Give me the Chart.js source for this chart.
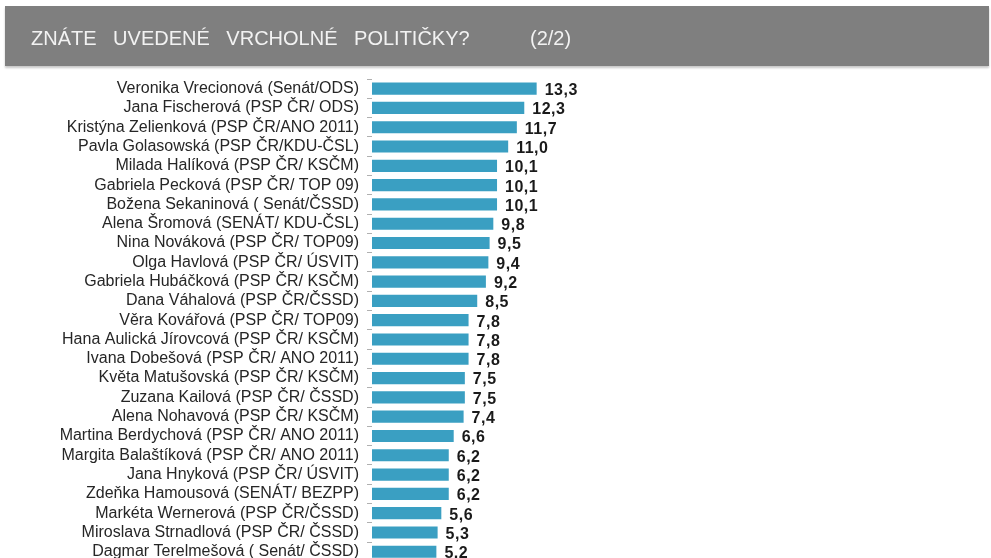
<!DOCTYPE html>
<html>
<head>
<meta charset="utf-8">
<script src="https://cdn.jsdelivr.net/npm/chart.js@4.4.1/dist/chart.umd.min.js"></script>
<style>
  html, body { margin: 0; padding: 0; background: #ffffff; }
  #clip { position: relative; width: 991px; height: 558px; overflow: hidden; }
  #band { position: absolute; left: 5px; top: 6px; width: 984px; height: 60px; background: #7f7f7f;
          box-shadow: 0 2px 2px rgba(0,0,0,0.22); }
  .ttl { position: absolute; top: 28px; color: #f2f2f2; font-family: "Liberation Sans", Arial, sans-serif;
         font-size: 20px; line-height: 20px; white-space: pre; }
  #t1 { left: 31px; word-spacing: 11px; }
  #t2 { left: 530px; }
  canvas { position: absolute; left: 0; top: 0; }
</style>
</head>
<body>
<div id="clip">
  <canvas id="c" width="991" height="579"></canvas>
  <div id="band"></div>
  <div class="ttl" id="t1">ZNÁTE UVEDENÉ VRCHOLNÉ POLITIČKY?</div>
  <div class="ttl" id="t2">(2/2)</div>
</div>
<script>
const categories = [
  "Veronika Vrecionová (Senát/ODS)",
  "Jana Fischerová (PSP ČR/ ODS)",
  "Kristýna Zelienková (PSP ČR/ANO 2011)",
  "Pavla Golasowská (PSP ČR/KDU-ČSL)",
  "Milada Halíková (PSP ČR/ KSČM)",
  "Gabriela Pecková (PSP ČR/ TOP 09)",
  "Božena Sekaninová ( Senát/ČSSD)",
  "Alena Šromová (SENÁT/ KDU-ČSL)",
  "Nina Nováková (PSP ČR/ TOP09)",
  "Olga Havlová (PSP ČR/ ÚSVIT)",
  "Gabriela Hubáčková (PSP ČR/ KSČM)",
  "Dana Váhalová (PSP ČR/ČSSD)",
  "Věra Kovářová (PSP ČR/ TOP09)",
  "Hana Aulická Jírovcová (PSP ČR/ KSČM)",
  "Ivana Dobešová (PSP ČR/ ANO 2011)",
  "Květa Matušovská (PSP ČR/ KSČM)",
  "Zuzana Kailová (PSP ČR/ ČSSD)",
  "Alena Nohavová (PSP ČR/ KSČM)",
  "Martina Berdychová (PSP ČR/ ANO 2011)",
  "Margita Balaštíková (PSP ČR/ ANO 2011)",
  "Jana Hnyková (PSP ČR/ ÚSVIT)",
  "Zdeňka Hamousová (SENÁT/ BEZPP)",
  "Markéta Wernerová (PSP ČR/ČSSD)",
  "Miroslava Strnadlová (PSP ČR/ ČSSD)",
  "Dagmar Terelmešová ( Senát/ ČSSD)"
];
const values = [13.3, 12.3, 11.7, 11.0, 10.1, 10.1, 10.1, 9.8, 9.5, 9.4, 9.2, 8.5, 7.8, 7.8, 7.8, 7.5, 7.5, 7.4, 6.6, 6.2, 6.2, 6.2, 5.6, 5.3, 5.2];

const valueLabels = {
  id: 'valueLabels',
  afterDatasetsDraw(chart) {
    const ctx = chart.ctx;
    const meta = chart.getDatasetMeta(0);
    ctx.save();
    ctx.font = 'bold 16px "Liberation Sans", Arial, sans-serif';
    ctx.fillStyle = '#1a1a1a';
    ctx.textAlign = 'left';
    ctx.textBaseline = 'middle';
    try { ctx.letterSpacing = '0.5px'; } catch (e) {}
    meta.data.forEach((bar, i) => {
      const txt = values[i].toFixed(1).replace('.', ',');
      ctx.fillText(txt, bar.x + 8, bar.y + 2);
    });
    ctx.restore();
  }
};

new Chart(document.getElementById('c'), {
  type: 'bar',
  data: {
    labels: categories,
    datasets: [{
      data: values,
      backgroundColor: '#3a9fc2',
      borderWidth: 0,
      categoryPercentage: 1.0,
      barPercentage: 0.63
    }]
  },
  options: {
    indexAxis: 'y',
    responsive: false,
    animation: false,
    layout: { padding: { top: 79, bottom: 10, left: 0, right: 0 } },
    plugins: { legend: { display: false }, tooltip: { enabled: false }, title: { display: false } },
    scales: {
      x: { display: false, min: 0, max: 50 },
      y: {
        afterFit(scale) { scale.width = 372; },
        border: { display: false },
        grid: { display: true, drawOnChartArea: false, drawTicks: true, tickLength: 5, color: '#b0b0b0', offset: true },
        ticks: {
          padding: 8,
          color: '#262626',
          font: { family: '"Liberation Sans", Arial, sans-serif', size: 16 },
          autoSkip: false
        }
      }
    }
  },
  plugins: [valueLabels]
});
</script>
</body>
</html>
